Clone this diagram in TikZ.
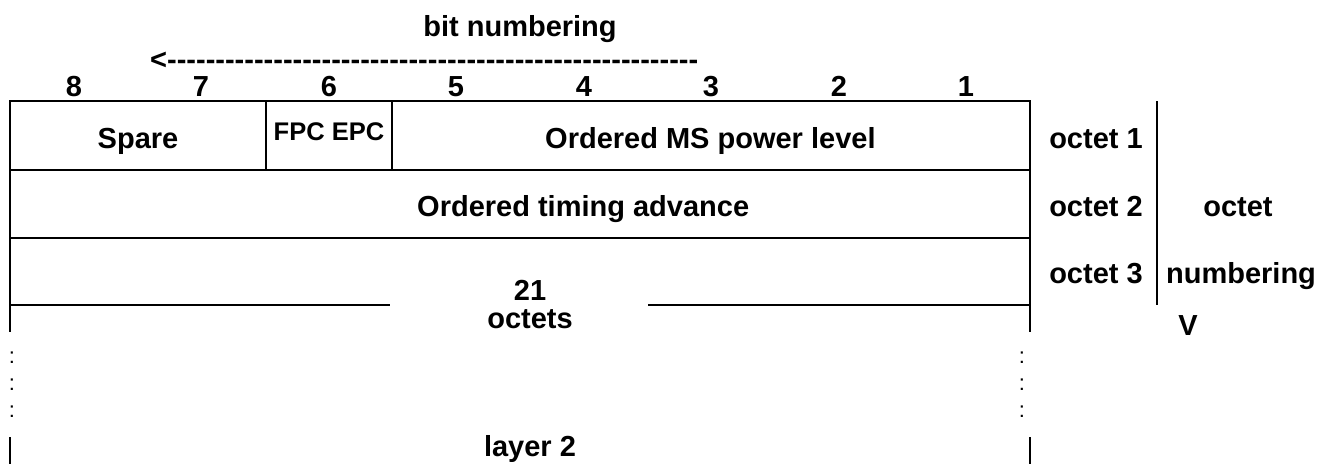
\documentclass[tikz,border=0pt]{standalone}
\usepackage{fontspec}
\setmainfont{Liberation Sans}
\newcommand\dashrow{<\foreach\i in {1,...,55}{-\kern0pt}}
\begin{document}
\begin{tikzpicture}[x=1pt,y=-1pt,
  lbl/.style={font=\bfseries\fontsize{29}{34}\selectfont, inner sep=0pt, anchor=base},
  small/.style={font=\bfseries\fontsize{25.5}{30}\selectfont, inner sep=0pt, anchor=base},
  dots/.style={font=\fontsize{22}{24}\selectfont, inner sep=0pt},
  ln/.style={line width=2.2pt}]
\useasboundingbox (0,0) rectangle (1319,464);
% header
\node[lbl] (bitnum) at (520,36) {bit numbering};
\node[lbl, anchor=base west] (arrow) at (150,69) {\dashrow};
\foreach \b/\x in {8/74,7/201,6/329,5/456,4/584,3/711,2/839,1/966}
  \node[lbl] (bit\b) at (\x,96) {\b};
% table lines
\draw[ln] (10,101) -- (1030,101);
\draw[ln] (10,170) -- (1030,170);
\draw[ln] (10,238) -- (1030,238);
\draw[ln] (10,305) -- (390,305);
\draw[ln] (648,305) -- (1030,305);
\draw[ln] (10,100) -- (10,332);
\draw[ln] (1030,100) -- (1030,332);
\draw[ln] (266,101) -- (266,170);
\draw[ln] (392,101) -- (392,170);
\draw[ln] (10,437) -- (10,464);
\draw[ln] (1030,437) -- (1030,464);
\draw[ln] (1157,101) -- (1157,305);
% row texts
\node[lbl] (spare) at (138,148) {Spare};
\node[small] (fpc) at (329,140) {FPC EPC};
\node[lbl, anchor=base west] (power) at (545,148) {Ordered MS power level};
\node[lbl, anchor=base west] (ta) at (417,216) {Ordered timing advance};
\node[lbl] (n21) at (530,300) {21};
\node[lbl] (octs) at (530,328) {octets};
\node[lbl] (layer) at (530,456) {layer 2};
% dots
\foreach \y [count=\k] in {358,385,412} {
  \node[dots] (dl\k) at (12,\y) {:};
  \node[dots] (dr\k) at (1022,\y) {:};
}
% right side
\node[lbl] (o1) at (1096,148) {octet 1};
\node[lbl] (o2) at (1096,216) {octet 2};
\node[lbl] (o3) at (1096,283) {octet 3};
\node[lbl] (oct) at (1238,216) {octet};
\node[lbl] (numb) at (1241,283) {numbering};
\node[lbl] (v) at (1188,335) {V};
\end{tikzpicture}
\end{document}
